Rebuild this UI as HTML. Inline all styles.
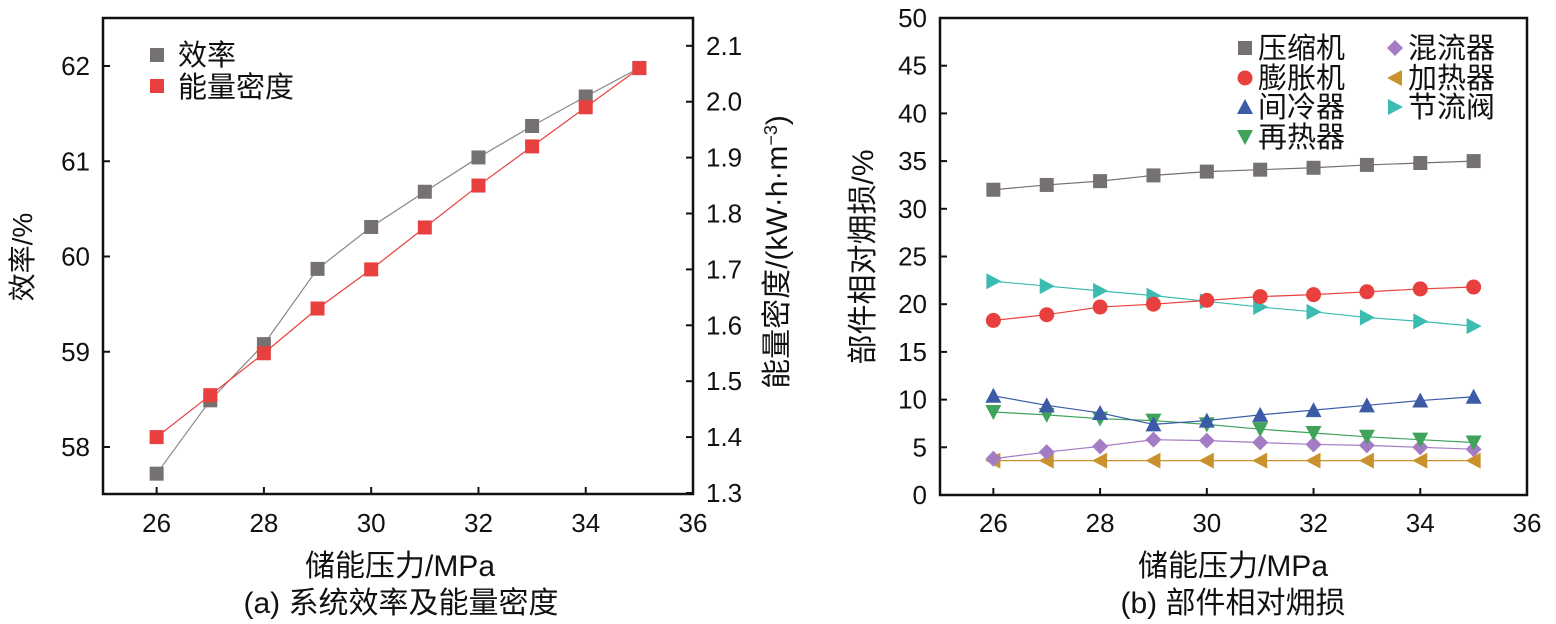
<!DOCTYPE html>
<html><head><meta charset="utf-8"><style>
html,body{margin:0;padding:0;background:#fff;}
svg text{font-family:"Liberation Sans","Noto Sans CJK SC",sans-serif;fill:#111;}
</style></head><body>
<svg id="c" width="1556" height="619" viewBox="0 0 1556 619" xmlns="http://www.w3.org/2000/svg"></svg>
<script>
const pressures=[26,27,28,29,30,31,32,33,34,35];
const efficiency=[57.72,58.49,59.08,59.87,60.31,60.68,61.04,61.37,61.68,61.98];
const density=[1.40,1.475,1.55,1.63,1.70,1.775,1.85,1.92,1.99,2.06];
const xTicks=[26,28,30,32,34,36];
const effTicks=[58,59,60,61,62];
const denTicks=['1.3','1.4','1.5','1.6','1.7','1.8','1.9','2.0','2.1'];
const lossTicks=[0,5,10,15,20,25,30,35,40,45,50];
const compressor=[32.0,32.5,32.9,33.5,33.9,34.1,34.3,34.6,34.8,35.0];
const expander=[18.3,18.9,19.7,20.0,20.4,20.8,21.0,21.3,21.6,21.8];
const intercooler=[10.4,9.4,8.6,7.4,7.8,8.4,8.9,9.4,9.9,10.3];
const reheater=[8.7,8.4,8.0,7.8,7.4,6.9,6.5,6.1,5.8,5.5];
const mixer=[3.8,4.5,5.1,5.8,5.7,5.5,5.3,5.2,5.0,4.8];
const heater=[3.6,3.6,3.6,3.6,3.6,3.6,3.6,3.6,3.6,3.6];
const throttle=[22.4,21.9,21.4,20.9,20.3,19.7,19.2,18.6,18.2,17.7];

const svg=document.getElementById('c');
const NS='http://www.w3.org/2000/svg';
function mk(tag,at,parent){const e=document.createElementNS(NS,tag);for(const k in at)e.setAttribute(k,at[k]);(parent||svg).appendChild(e);return e;}
function txt(s,at,parent){const e=mk('text',at,parent);e.textContent=s;return e;}

const LX=v=>103+(v-25)*(693-103)/11;
const LY=v=>447-(v-58)*95.25;
const RY=v=>493-(v-1.3)*559;
const BX=v=>940+(v-25)*(1527-940)/11;
const BY=v=>495-v*9.54;

function marker(g,type,x,y,color){
  let e;
  const s=7;
  if(type==='sq') e=mk('rect',{x:x-s,y:y-s,width:2*s,height:2*s,fill:color},g);
  else if(type==='ci') e=mk('circle',{cx:x,cy:y,r:7.5,fill:color},g);
  else if(type==='up') e=mk('polygon',{points:`${x-8},${y+7} ${x+8},${y+7} ${x},${y-8}`,fill:color},g);
  else if(type==='dn') e=mk('polygon',{points:`${x-8},${y-7} ${x+8},${y-7} ${x},${y+8}`,fill:color},g);
  else if(type==='di') e=mk('polygon',{points:`${x},${y-8} ${x+8},${y} ${x},${y+8} ${x-8},${y}`,fill:color},g);
  else if(type==='lt') e=mk('polygon',{points:`${x+7},${y-8} ${x+7},${y+8} ${x-8},${y}`,fill:color},g);
  else if(type==='rt') e=mk('polygon',{points:`${x-7},${y-8} ${x-7},${y+8} ${x+8},${y}`,fill:color},g);
  
  
  return e;
}
function series(name,xs,ys,xf,yf,type,color,lineColor){
  const g=mk('g',{});
  
  
  const pts=xs.map((x,i)=>xf(x)+','+yf(ys[i])).join(' ');
  const pl=mk('polyline',{points:pts,fill:'none',stroke:lineColor||color,'stroke-width':1.2},g);
  
  
  xs.forEach((x,i)=>marker(g,type,xf(x),yf(ys[i]),color));
}
const TF=26;
// ===== Left chart
const fa=mk('rect',{x:103,y:18,width:590,height:476,fill:'none',stroke:'#111','stroke-width':2.5});


xTicks.forEach(t=>{mk('line',{x1:LX(t),y1:494,x2:LX(t),y2:487,stroke:'#111','stroke-width':2});
  const e=txt(t,{x:LX(t),y:532,'font-size':TF,'text-anchor':'middle'});});
effTicks.forEach(t=>{mk('line',{x1:103,y1:LY(t),x2:110,y2:LY(t),stroke:'#111','stroke-width':2});
  const e=txt(t,{x:90,y:LY(t)+9,'font-size':TF,'text-anchor':'end'});});
denTicks.forEach(t=>{const y=RY(parseFloat(t));mk('line',{x1:693,y1:y,x2:686,y2:y,stroke:'#111','stroke-width':2});
  const e=txt(t,{x:706,y:y+9,'font-size':TF});});
series('efficiency-series',pressures,efficiency,LX,LY,'sq','#767171','#8a8686');
series('density-series',pressures,density,LX,RY,'sq','#e8403f','#e8403f');
marker(svg,'sq',157,55,'#767171');marker(svg,'sq',157,86,'#e8403f');
let e;
e=txt('效率',{x:178,y:65,'font-size':29});
e=txt('能量密度',{x:178,y:97,'font-size':29});
e=txt('储能压力/MPa',{x:400,y:576,'font-size':30,'text-anchor':'middle'});
e=txt('(a) 系统效率及能量密度',{x:401,y:613,'font-size':30,'text-anchor':'middle'});
e=txt('效率/%',{x:0,y:0,'font-size':28,'text-anchor':'middle',transform:'translate(32,257) rotate(-90)'});
e=mk('text',{x:0,y:0,'font-size':30,'text-anchor':'middle',transform:'translate(787,252) rotate(-90)'});
e.innerHTML='能量密度/(kW·h·m<tspan dy="-10" font-size="18">−3</tspan><tspan dy="10">)</tspan>';


// ===== Right chart
const fb=mk('rect',{x:940,y:18,width:587,height:477,fill:'none',stroke:'#111','stroke-width':2.5});


xTicks.forEach(t=>{mk('line',{x1:BX(t),y1:495,x2:BX(t),y2:488,stroke:'#111','stroke-width':2});
  const e=txt(t,{x:BX(t),y:532,'font-size':TF,'text-anchor':'middle'});});
lossTicks.forEach(t=>{mk('line',{x1:940,y1:BY(t),x2:947,y2:BY(t),stroke:'#111','stroke-width':2});
  const e=txt(t,{x:927,y:BY(t)+9,'font-size':TF,'text-anchor':'end'});});
series('heater-series',pressures,heater,BX,BY,'lt','#c9922d');
series('mixer-series',pressures,mixer,BX,BY,'di','#a47cc4');
series('reheater-series',pressures,reheater,BX,BY,'dn','#3fa35c');
series('intercooler-series',pressures,intercooler,BX,BY,'up','#3b5ba6');
series('throttle-series',pressures,throttle,BX,BY,'rt','#3bbcb0');
series('expander-series',pressures,expander,BX,BY,'ci','#e8403f');
series('compressor-series',pressures,compressor,BX,BY,'sq','#767171');
const leg=[['压缩机','sq','#767171',1245,48],['膨胀机','ci','#e8403f',1245,78],['间冷器','up','#3b5ba6',1245,107],['再热器','dn','#3fa35c',1245,137],
['混流器','di','#a47cc4',1395,48],['加热器','lt','#c9922d',1395,78],['节流阀','rt','#3bbcb0',1395,107]];
leg.forEach(l=>{marker(svg,l[1],l[3],l[4],l[2]);const t=txt(l[0],{x:l[3]+13,y:l[4]+10,'font-size':29});
  });
e=txt('储能压力/MPa',{x:1233,y:576,'font-size':30,'text-anchor':'middle'});
e=txt('(b) 部件相对㶲损',{x:1233,y:613,'font-size':30,'text-anchor':'middle'});
e=txt('部件相对㶲损/%',{x:0,y:0,'font-size':30,'text-anchor':'middle',transform:'translate(873,257) rotate(-90)'});
</script>
</body></html>
